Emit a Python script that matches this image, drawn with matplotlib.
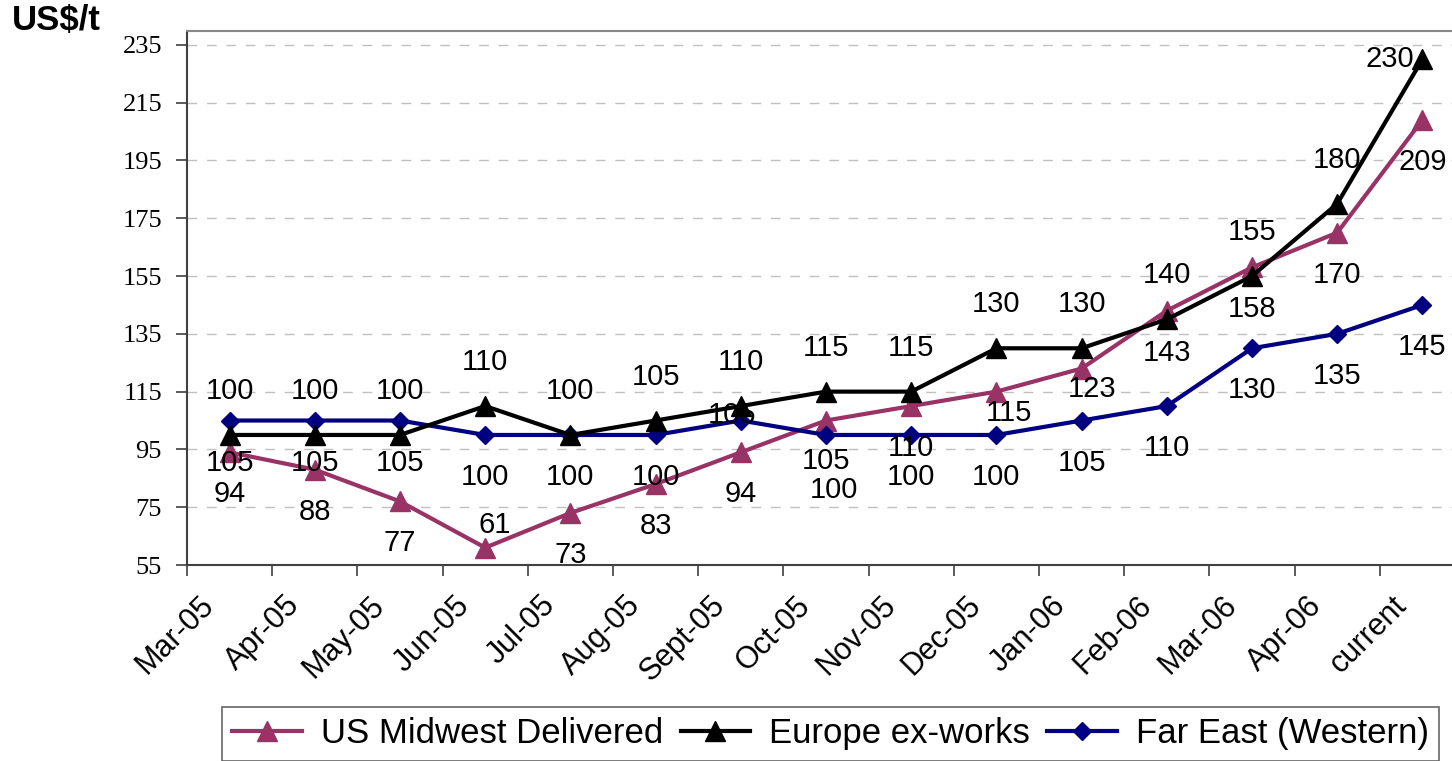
import matplotlib
matplotlib.use("Agg")
import matplotlib.pyplot as plt
from matplotlib.lines import Line2D
import matplotlib.transforms as mtransforms

categories = ["Mar-05", "Apr-05", "May-05", "Jun-05", "Jul-05", "Aug-05", "Sept-05",
              "Oct-05", "Nov-05", "Dec-05", "Jan-06", "Feb-06", "Mar-06", "Apr-06", "current"]
us_midwest = [94, 88, 77, 61, 73, 83, 94, 105, 110, 115, 123, 143, 158, 170, 209]
europe = [100, 100, 100, 110, 100, 105, 110, 115, 115, 130, 130, 140, 155, 180, 230]
far_east = [105, 105, 105, 100, 100, 100, 105, 100, 100, 100, 105, 110, 130, 135, 145]
y_ticks = [55, 75, 95, 115, 135, 155, 175, 195, 215, 235]

# label offsets in pixels (style only)
eu_off = [(0, 44)] * 14 + [(-33, 0)]
fe_off = [(0, -42)] * 15
fe_off[6] = (-9, 6)
fe_off[7] = (8, -55)
us_off = [(0, -42)] * 15
us_off[3] = (9, 23)
us_off[7] = (0, -40)
us_off[9] = (13, -21)
us_off[10] = (10, -20)

C_US = "#993366"
C_EU = "#000000"
C_FE = "#000080"

fig = plt.figure(figsize=(14.52, 7.61), dpi=100)
W, H = 1452, 761
ax = fig.add_axes([187 / W, 1 - 565 / H, (1465 - 187) / W, (565 - 31) / H])
x = list(range(len(categories)))

ax.plot(x, us_midwest, color=C_US, lw=3, marker="^", ms=14, zorder=3)
ax.plot(x, europe, color=C_EU, lw=3, marker="^", ms=14, zorder=4)
ax.plot(x, far_east, color=C_FE, lw=3, marker="D", ms=9, zorder=3)

ax.set_xlim(-0.5, 14.5)
ax.set_ylim(55, 239.8)
ax.set_yticks(y_ticks)
ax.set_yticklabels([str(v) for v in y_ticks], fontfamily="Liberation Serif", fontsize=19)
for v in y_ticks[1:]:
    ax.axhline(v, color="#c0c0c0", lw=1, ls=(0, (7, 7)), zorder=1)

ax.set_xticks([i - 0.5 for i in range(len(categories))])
ax.set_xticklabels([])
ax.tick_params(axis="x", length=8, width=1.2, color="#404040", direction="out")
ax.tick_params(axis="y", length=8, width=1.2, color="#404040", direction="out", pad=10)

for s in ["left", "bottom"]:
    ax.spines[s].set_color("#404040")
    ax.spines[s].set_linewidth(1.5)
ax.spines["top"].set_color("#888888")
ax.spines["top"].set_linewidth(1.5)
ax.spines["right"].set_visible(False)

# category labels
for i, c in enumerate(categories):
    off = mtransforms.ScaledTranslation(-20 / 100, -36 / 100, fig.dpi_scale_trans)
    tr = mtransforms.blended_transform_factory(ax.transData, ax.transAxes) + off
    ax.text(i, 0, c, transform=tr, rotation=45, rotation_mode="anchor",
            ha="right", va="center", fontsize=22, fontfamily="Liberation Sans")

def labels(vals, offs):
    for i, (v, (dx, dy)) in enumerate(zip(vals, offs)):
        ax.annotate(str(v), (i, v), xytext=(dx, dy), textcoords="offset pixels",
                    ha="center", va="center", fontsize=21, fontfamily="Liberation Sans",
                    zorder=6, annotation_clip=False)

labels(europe, eu_off)
labels(far_east, fe_off)
labels(us_midwest, us_off)

fig.text(12 / W, 1 - 4 / H, "US$/t", fontsize=25, fontweight="bold",
         fontfamily="Liberation Sans", ha="left", va="top")

handles = [
    Line2D([], [], color=C_US, lw=3, marker="^", ms=14),
    Line2D([], [], color=C_EU, lw=3, marker="^", ms=14),
    Line2D([], [], color=C_FE, lw=3, marker="D", ms=9),
]
leg = fig.legend(handles, ["US Midwest Delivered", "Europe ex-works", "Far East (Western)"],
                 loc="upper left", bbox_to_anchor=(222 / W, 1 - 707 / H), ncol=3,
                 prop={"family": "Liberation Sans", "size": 25}, frameon=True, fancybox=False,
                 handlelength=2.0, handletextpad=0.55, columnspacing=0.5, borderpad=0.3,
                 borderaxespad=0)
leg.get_frame().set_edgecolor("#404040")
leg.get_frame().set_linewidth(1.2)

fig.savefig("out.png", dpi=100)
